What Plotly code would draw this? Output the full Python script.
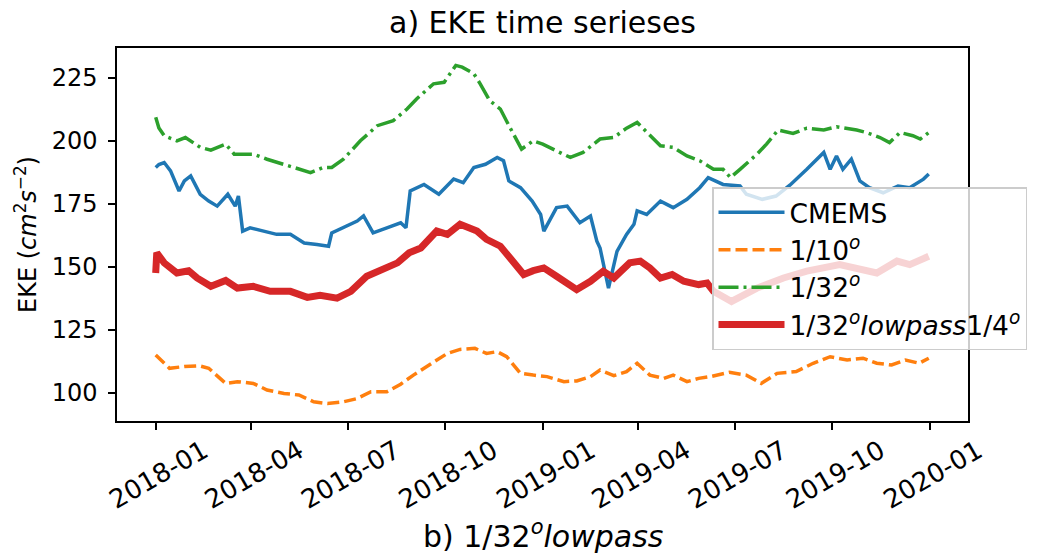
import pandas as pd
import plotly.graph_objects as go

START = "2018-01-01"

# CMEMS
cmems_days = [0, 3, 8, 14, 22, 27, 33, 42, 50, 58, 68, 75, 78, 82, 89, 102, 114, 127, 140, 152, 163, 166,
              177, 190, 196, 205, 218, 231, 236, 240, 253, 267, 281, 290, 300, 311, 322, 328, 333, 344, 355,
              363, 366, 378, 388, 400, 410, 416, 419, 427, 435, 444, 451, 454, 463, 476, 488, 501, 513, 521,
              535, 551, 557, 572, 585, 598, 614, 630, 636, 642, 648, 656, 664, 673, 686, 700, 711, 724, 729]
cmems_vals = [189.3, 190.5, 191.3, 188.0, 180.0, 184.0, 186.0, 178.7, 176.0, 174.0, 178.7, 174.0, 178.0, 164.1,
              165.4, 164.1, 162.8, 162.8, 159.4, 158.8, 158.1, 163.4, 165.4, 168.1, 170.1, 163.4, 165.4, 167.4,
              165.4, 180.0, 182.6, 178.7, 184.7, 183.3, 189.3, 190.6, 193.3, 192.0, 184.0, 181.3, 176.0, 170.7,
              164.1, 173.4, 174.0, 167.4, 170.1, 160.1, 157.4, 141.5, 156.1, 162.8, 166.8, 172.1, 170.7, 176.0,
              173.4, 176.7, 181.3, 185.3, 182.6, 182.0, 178.7, 176.7, 178.0, 182.3, 188.6, 195.3, 188.6, 193.9,
              188.6, 192.6, 184.0, 181.3, 179.3, 182.0, 181.3, 184.7, 186.7]

# 1/10 degree
r10_days = [0, 13, 27, 41, 50, 66, 77, 92, 105, 121, 135, 149, 162, 177, 190, 203, 218, 231, 243, 262, 275,
            287, 301, 312, 322, 331, 344, 356, 369, 385, 397, 410, 419, 432, 444, 454, 466, 479, 488, 501, 512,
            523, 541, 557, 571, 586, 604, 620, 636, 652, 667, 680, 694, 707, 720, 729]
r10_vals = [115.0, 109.7, 110.4, 110.7, 109.7, 103.7, 104.4, 103.7, 101.1, 99.7, 99.1, 96.4, 95.7, 96.4, 97.7,
            100.4, 100.4, 103.4, 107.0, 112.3, 115.6, 117.2, 117.6, 115.6, 116.3, 114.3, 107.7, 107.0, 106.4,
            104.4, 104.7, 106.4, 109.0, 106.8, 108.4, 111.7, 107.0, 105.7, 107.0, 104.4, 105.7, 106.4, 108.1,
            107.0, 103.7, 107.7, 108.4, 111.7, 114.3, 113.0, 113.7, 111.7, 111.0, 113.0, 111.7, 113.7]

# 1/32 degree
r32_days = [0, 3, 8, 20, 28, 42, 52, 66, 74, 92, 105, 121, 140, 146, 158, 166, 177, 193, 209, 224, 237, 246,
            262, 272, 283, 289, 300, 306, 315, 325, 334, 345, 356, 365, 378, 391, 403, 419, 432, 444, 454, 465,
            476, 488, 501, 513, 526, 535, 542, 551, 567, 576, 587, 601, 614, 630, 642, 661, 670, 683, 692, 702,
            714, 721, 729]
r32_vals = [209.2, 205.0, 201.9, 199.9, 201.2, 197.3, 196.2, 198.6, 194.6, 194.6, 192.6, 190.6, 188.0, 187.3,
            189.3, 189.3, 192.6, 199.9, 205.9, 207.9, 212.5, 216.5, 222.5, 223.1, 229.8, 229.1, 226.5, 222.5,
            215.8, 212.5, 205.2, 196.6, 199.9, 198.6, 195.9, 193.3, 195.3, 200.6, 201.2, 204.9, 207.2, 202.6,
            197.9, 197.3, 193.9, 192.0, 188.6, 188.6, 185.3, 188.6, 194.6, 198.6, 204.2, 202.8, 204.9, 204.2,
            205.5, 204.2, 203.2, 201.2, 199.2, 203.2, 201.9, 200.6, 203.2]

# 1/32 degree lowpass 1/4 degree
lp_days = [0, 1, 8, 20, 31, 39, 52, 66, 77, 92, 108, 127, 143, 155, 171, 184, 199, 215, 228, 239, 250, 265,
           275, 287, 303, 312, 325, 334, 347, 356, 366, 378, 397, 410, 422, 432, 447, 457, 466, 476, 487, 498,
           512, 520, 526, 543, 567, 592, 614, 645, 661, 680, 699, 711, 729]
lp_vals = [147.5, 155.5, 151.5, 147.5, 148.4, 145.5, 142.2, 144.5, 141.5, 142.2, 140.2, 140.2, 137.8, 138.6,
           137.5, 140.2, 146.2, 149.5, 151.5, 155.5, 157.4, 164.1, 162.8, 166.8, 164.1, 160.8, 158.1, 153.5,
           146.9, 148.4, 149.5, 146.2, 140.9, 144.2, 148.2, 145.5, 151.5, 152.2, 149.5, 145.5, 146.9, 144.2,
           142.9, 143.5, 140.2, 136.2, 141.5, 145.5, 148.2, 150.8, 149.5, 147.5, 152.2, 150.8, 154.1]

names = ["CMEMS", "1/10<sup><i>o</i></sup>", "1/32<sup><i>o</i></sup>",
         "1/32<sup><i>o</i></sup><i>lowpass</i>1/4<sup><i>o</i></sup>"]
tick_vals = ["2018-01-01", "2018-04-01", "2018-07-01", "2018-10-01", "2019-01-01",
             "2019-04-01", "2019-07-01", "2019-10-01", "2020-01-01"]
tick_text = ["2018-01", "2018-04", "2018-07", "2018-10", "2019-01",
             "2019-04", "2019-07", "2019-10", "2020-01"]
y_ticks = [100, 125, 150, 175, 200, 225]


def to_dates(days):
    return pd.Timestamp(START) + pd.to_timedelta(days, unit="D")


FONT = "DejaVu Sans"
fig = go.Figure()
fig.add_trace(go.Scatter(x=to_dates(cmems_days), y=cmems_vals, mode="lines", name=names[0],
                         line=dict(color="#1f77b4", width=3.5)))
fig.add_trace(go.Scatter(x=to_dates(r10_days), y=r10_vals, mode="lines", name=names[1],
                         line=dict(color="#ff7f0e", width=3.5, dash="12px,5px")))
fig.add_trace(go.Scatter(x=to_dates(r32_days), y=r32_vals, mode="lines", name=names[2],
                         line=dict(color="#2ca02c", width=3.5, dash="20px,5px,3px,5px")))
fig.add_trace(go.Scatter(x=to_dates(lp_days), y=lp_vals, mode="lines", name=names[3],
                         line=dict(color="#d62728", width=7)))

axis_common = dict(showline=True, mirror=True, linecolor="black", linewidth=1.5, showgrid=False,
                   zeroline=False, ticks="outside", ticklen=7, tickwidth=1.5, tickcolor="black")

fig.update_layout(
    width=1041, height=557,
    margin=dict(l=117, r=73, t=48, b=136),
    paper_bgcolor="white", plot_bgcolor="white",
    font=dict(family=FONT, color="black"),
    title=dict(text="a) EKE time serieses", x=0.5, xref="paper", y=1 - 22 / 557, yref="container",
               xanchor="center", yanchor="middle", font=dict(family=FONT, size=30, color="black")),
    xaxis=dict(range=[pd.Timestamp("2017-11-25 12:00"), pd.Timestamp("2020-02-06")],
               tickvals=tick_vals, ticktext=tick_text, tickangle=-30, ticklabelshift=48,
               ticklabelstandoff=-4, tickfont=dict(family=FONT, size=26, color="black"),
               **axis_common),
    yaxis=dict(range=[88.8, 236.7], tickvals=y_ticks, ticklabelstandoff=6,
               tickfont=dict(family=FONT, size=24, color="black"),
               title=dict(text="EKE (<i>cm</i><sup>2</sup><i>s</i><sup>−2</sup>)",
                          font=dict(family=FONT, size=24, color="black"), standoff=8),
               **axis_common),
    legend=dict(x=(712 - 117) / 851, y=(421 - 187) / 373, xanchor="left", yanchor="top",
                bgcolor="rgba(255,255,255,0.8)", bordercolor="rgba(204,204,204,1)", borderwidth=1.5,
                font=dict(family=FONT, size=26.5, color="black"), itemwidth=66),
    showlegend=True,
)

fig.add_annotation(text="b) 1/32<sup><i>o</i></sup><i>lowpass</i>", x=0.5, xref="paper",
                   y=-(534 - 421) / 373, yref="paper", xanchor="center", yanchor="middle",
                   showarrow=False, font=dict(family=FONT, size=30, color="black"))

fig.write_html("out.html", config={"displayModeBar": False},
               post_script="document.body.style.margin='0';")
